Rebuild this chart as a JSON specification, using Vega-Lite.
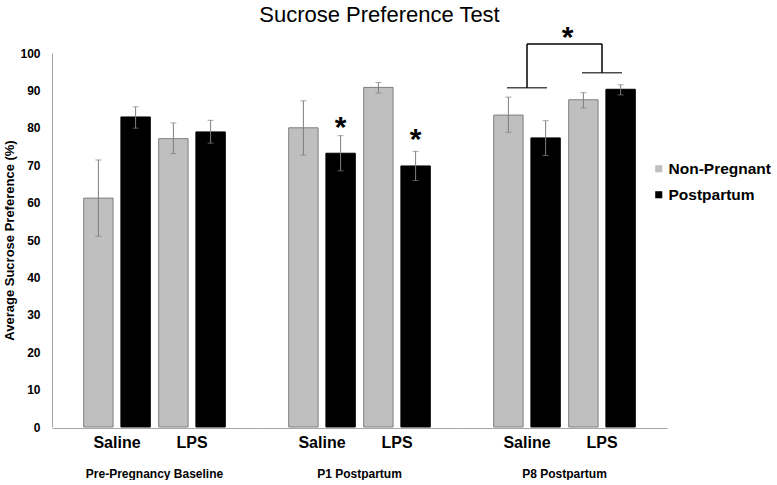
{
  "$schema": "https://vega.github.io/schema/vega-lite/v6.json",
  "padding": {"left": 3, "top": 3, "right": 0, "bottom": 0},
  "title": {"text": "Sucrose Preference Test", "font": "Liberation Sans", "fontSize": 22, "fontWeight": "normal", "color": "#000000", "anchor": "middle", "offset": -4, "dx": -8},
  "data": {"values": [
    {"kind": "bar", "phase": "Pre-Pregnancy Baseline", "treatment": "Saline", "group": "Non-Pregnant", "value": 61.2, "lo": 51.0, "hi": 71.4},
    {"kind": "bar", "phase": "Pre-Pregnancy Baseline", "treatment": "Saline", "group": "Postpartum", "value": 82.9, "lo": 79.9, "hi": 85.6},
    {"kind": "bar", "phase": "Pre-Pregnancy Baseline", "treatment": "LPS", "group": "Non-Pregnant", "value": 77.1, "lo": 73.1, "hi": 81.3},
    {"kind": "bar", "phase": "Pre-Pregnancy Baseline", "treatment": "LPS", "group": "Postpartum", "value": 78.9, "lo": 75.9, "hi": 82.0},
    {"kind": "bar", "phase": "P1 Postpartum", "treatment": "Saline", "group": "Non-Pregnant", "value": 80.0, "lo": 72.7, "hi": 87.2},
    {"kind": "bar", "phase": "P1 Postpartum", "treatment": "Saline", "group": "Postpartum", "value": 73.2, "lo": 68.5, "hi": 77.9},
    {"kind": "bar", "phase": "P1 Postpartum", "treatment": "LPS", "group": "Non-Pregnant", "value": 90.8, "lo": 89.3, "hi": 92.1},
    {"kind": "bar", "phase": "P1 Postpartum", "treatment": "LPS", "group": "Postpartum", "value": 69.8, "lo": 65.9, "hi": 73.7},
    {"kind": "bar", "phase": "P8 Postpartum", "treatment": "Saline", "group": "Non-Pregnant", "value": 83.4, "lo": 78.8, "hi": 88.2},
    {"kind": "bar", "phase": "P8 Postpartum", "treatment": "Saline", "group": "Postpartum", "value": 77.3, "lo": 72.6, "hi": 81.9},
    {"kind": "bar", "phase": "P8 Postpartum", "treatment": "LPS", "group": "Non-Pregnant", "value": 87.5, "lo": 85.3, "hi": 89.4},
    {"kind": "bar", "phase": "P8 Postpartum", "treatment": "LPS", "group": "Postpartum", "value": 90.3, "lo": 88.8, "hi": 91.5},
    {"kind": "star", "phase": "P1 Postpartum", "treatment": "Saline", "group": "Postpartum", "value": 81.1},
    {"kind": "star", "phase": "P1 Postpartum", "treatment": "LPS", "group": "Postpartum", "value": 77.9},
    {"kind": "star2", "phase": "P8 Postpartum", "treatment": "LPS", "value": 105.2},
    {"kind": "brk", "phase": "P8 Postpartum", "treatment": "Saline", "value": 90.7, "top": 102.4},
    {"kind": "brk", "phase": "P8 Postpartum", "treatment": "LPS", "value": 94.7, "top": 102.4},
    {"kind": "brktop", "phase": "P8 Postpartum", "treatment": "Saline", "treatment2": "LPS", "value": 102.4}
  ]},
  "facet": {
    "column": {
      "field": "phase", "type": "nominal",
      "sort": ["Pre-Pregnancy Baseline", "P1 Postpartum", "P8 Postpartum"],
      "header": {"labelOrient": "bottom", "title": null, "labelFont": "Liberation Sans", "labelFontWeight": "bold", "labelFontSize": 12, "labelColor": "#000000", "labelPadding": 19}
    }
  },
  "spacing": 0,
  "spec": {
    "width": 205,
    "height": 374,
    "encoding": {
      "x": {"field": "treatment", "type": "nominal", "sort": ["Saline", "LPS"], "scale": {"domain": ["Saline", "LPS"], "paddingInner": 0, "paddingOuter": 0.3667},
        "axis": {"title": null, "labelAngle": 0, "ticks": false, "labelFont": "Liberation Sans", "labelFontSize": 16, "labelFontWeight": "bold", "labelColor": "#000000", "labelPadding": 6, "domainColor": "#a6a6a6"}},
      "y": {"field": "value", "type": "quantitative", "scale": {"domain": [0, 100], "nice": false},
        "axis": {"title": "Average Sucrose Preference (%)", "values": [0, 10, 20, 30, 40, 50, 60, 70, 80, 90, 100], "grid": false, "ticks": false, "labelPadding": 12, "labelFont": "Liberation Sans", "labelFontSize": 12, "labelFontWeight": "bold", "labelColor": "#000000", "titleFont": "Liberation Sans", "titleFontSize": 13, "titleFontWeight": "bold", "titleColor": "#000000", "titlePadding": 3, "domainColor": "#a6a6a6"}}
    },
    "layer": [
      {
        "transform": [{"filter": "datum.kind == 'bar'"}],
        "mark": {"type": "bar", "strokeWidth": 1},
        "encoding": {
          "xOffset": {"field": "group", "type": "nominal", "sort": ["Non-Pregnant", "Postpartum"], "scale": {"paddingInner": 0.21, "paddingOuter": 0.113}},
          "color": {"field": "group", "type": "nominal", "scale": {"domain": ["Non-Pregnant", "Postpartum"], "range": ["#bfbfbf", "#000000"]},
            "legend": {"orient": "none", "legendX": 599, "legendY": 108, "title": null, "symbolType": "square", "symbolSize": 50, "symbolStrokeWidth": 0, "labelFont": "Liberation Sans", "labelFontSize": 15.5, "labelFontWeight": "bold", "labelColor": "#000000", "rowPadding": 9, "labelOffset": 2}},
          "stroke": {"field": "group", "type": "nominal", "scale": {"domain": ["Non-Pregnant", "Postpartum"], "range": ["#7f7f7f", "#000000"]}, "legend": null}
        }
      },
      {
        "transform": [{"filter": "datum.kind == 'bar'"}],
        "mark": {"type": "rule", "color": "#7f7f7f", "strokeWidth": 1},
        "encoding": {
          "xOffset": {"field": "group", "type": "nominal", "sort": ["Non-Pregnant", "Postpartum"]},
          "y": {"field": "lo", "type": "quantitative"},
          "y2": {"field": "hi"}
        }
      },
      {
        "transform": [{"filter": "datum.kind == 'bar'"}],
        "mark": {"type": "tick", "color": "#7f7f7f", "size": 6, "thickness": 1},
        "encoding": {
          "xOffset": {"field": "group", "type": "nominal", "sort": ["Non-Pregnant", "Postpartum"]},
          "y": {"field": "lo", "type": "quantitative"}
        }
      },
      {
        "transform": [{"filter": "datum.kind == 'bar'"}],
        "mark": {"type": "tick", "color": "#7f7f7f", "size": 6, "thickness": 1},
        "encoding": {
          "xOffset": {"field": "group", "type": "nominal", "sort": ["Non-Pregnant", "Postpartum"]},
          "y": {"field": "hi", "type": "quantitative"}
        }
      },
      {
        "transform": [{"filter": "datum.kind == 'star'"}],
        "mark": {"type": "text", "text": "*", "font": "Liberation Sans", "fontSize": 30, "fontWeight": "bold", "color": "#000000", "baseline": "middle", "dy": 4},
        "encoding": {
          "xOffset": {"field": "group", "type": "nominal", "sort": ["Non-Pregnant", "Postpartum"]}
        }
      },
      {
        "transform": [{"filter": "datum.kind == 'star2'"}],
        "mark": {"type": "text", "text": "*", "font": "Liberation Sans", "fontSize": 30, "fontWeight": "bold", "color": "#000000", "baseline": "middle", "dy": 4, "dx": 3},
        "encoding": {
          "x": {"field": "treatment", "type": "nominal", "bandPosition": 0}
        }
      },
      {
        "transform": [{"filter": "datum.kind == 'brk'"}],
        "mark": {"type": "tick", "color": "#000000", "size": 40, "thickness": 1.5},
        "encoding": {}
      },
      {
        "transform": [{"filter": "datum.kind == 'brk'"}],
        "mark": {"type": "rule", "color": "#000000", "strokeWidth": 1.5},
        "encoding": {"y2": {"field": "top"}}
      },
      {
        "transform": [{"filter": "datum.kind == 'brktop'"}],
        "mark": {"type": "rule", "color": "#000000", "strokeWidth": 1.5},
        "encoding": {
          "x2": {"field": "treatment2"}
        }
      }
    ]
  },
  "config": {
    "view": {"stroke": null},
    "background": "#ffffff"
  }
}
